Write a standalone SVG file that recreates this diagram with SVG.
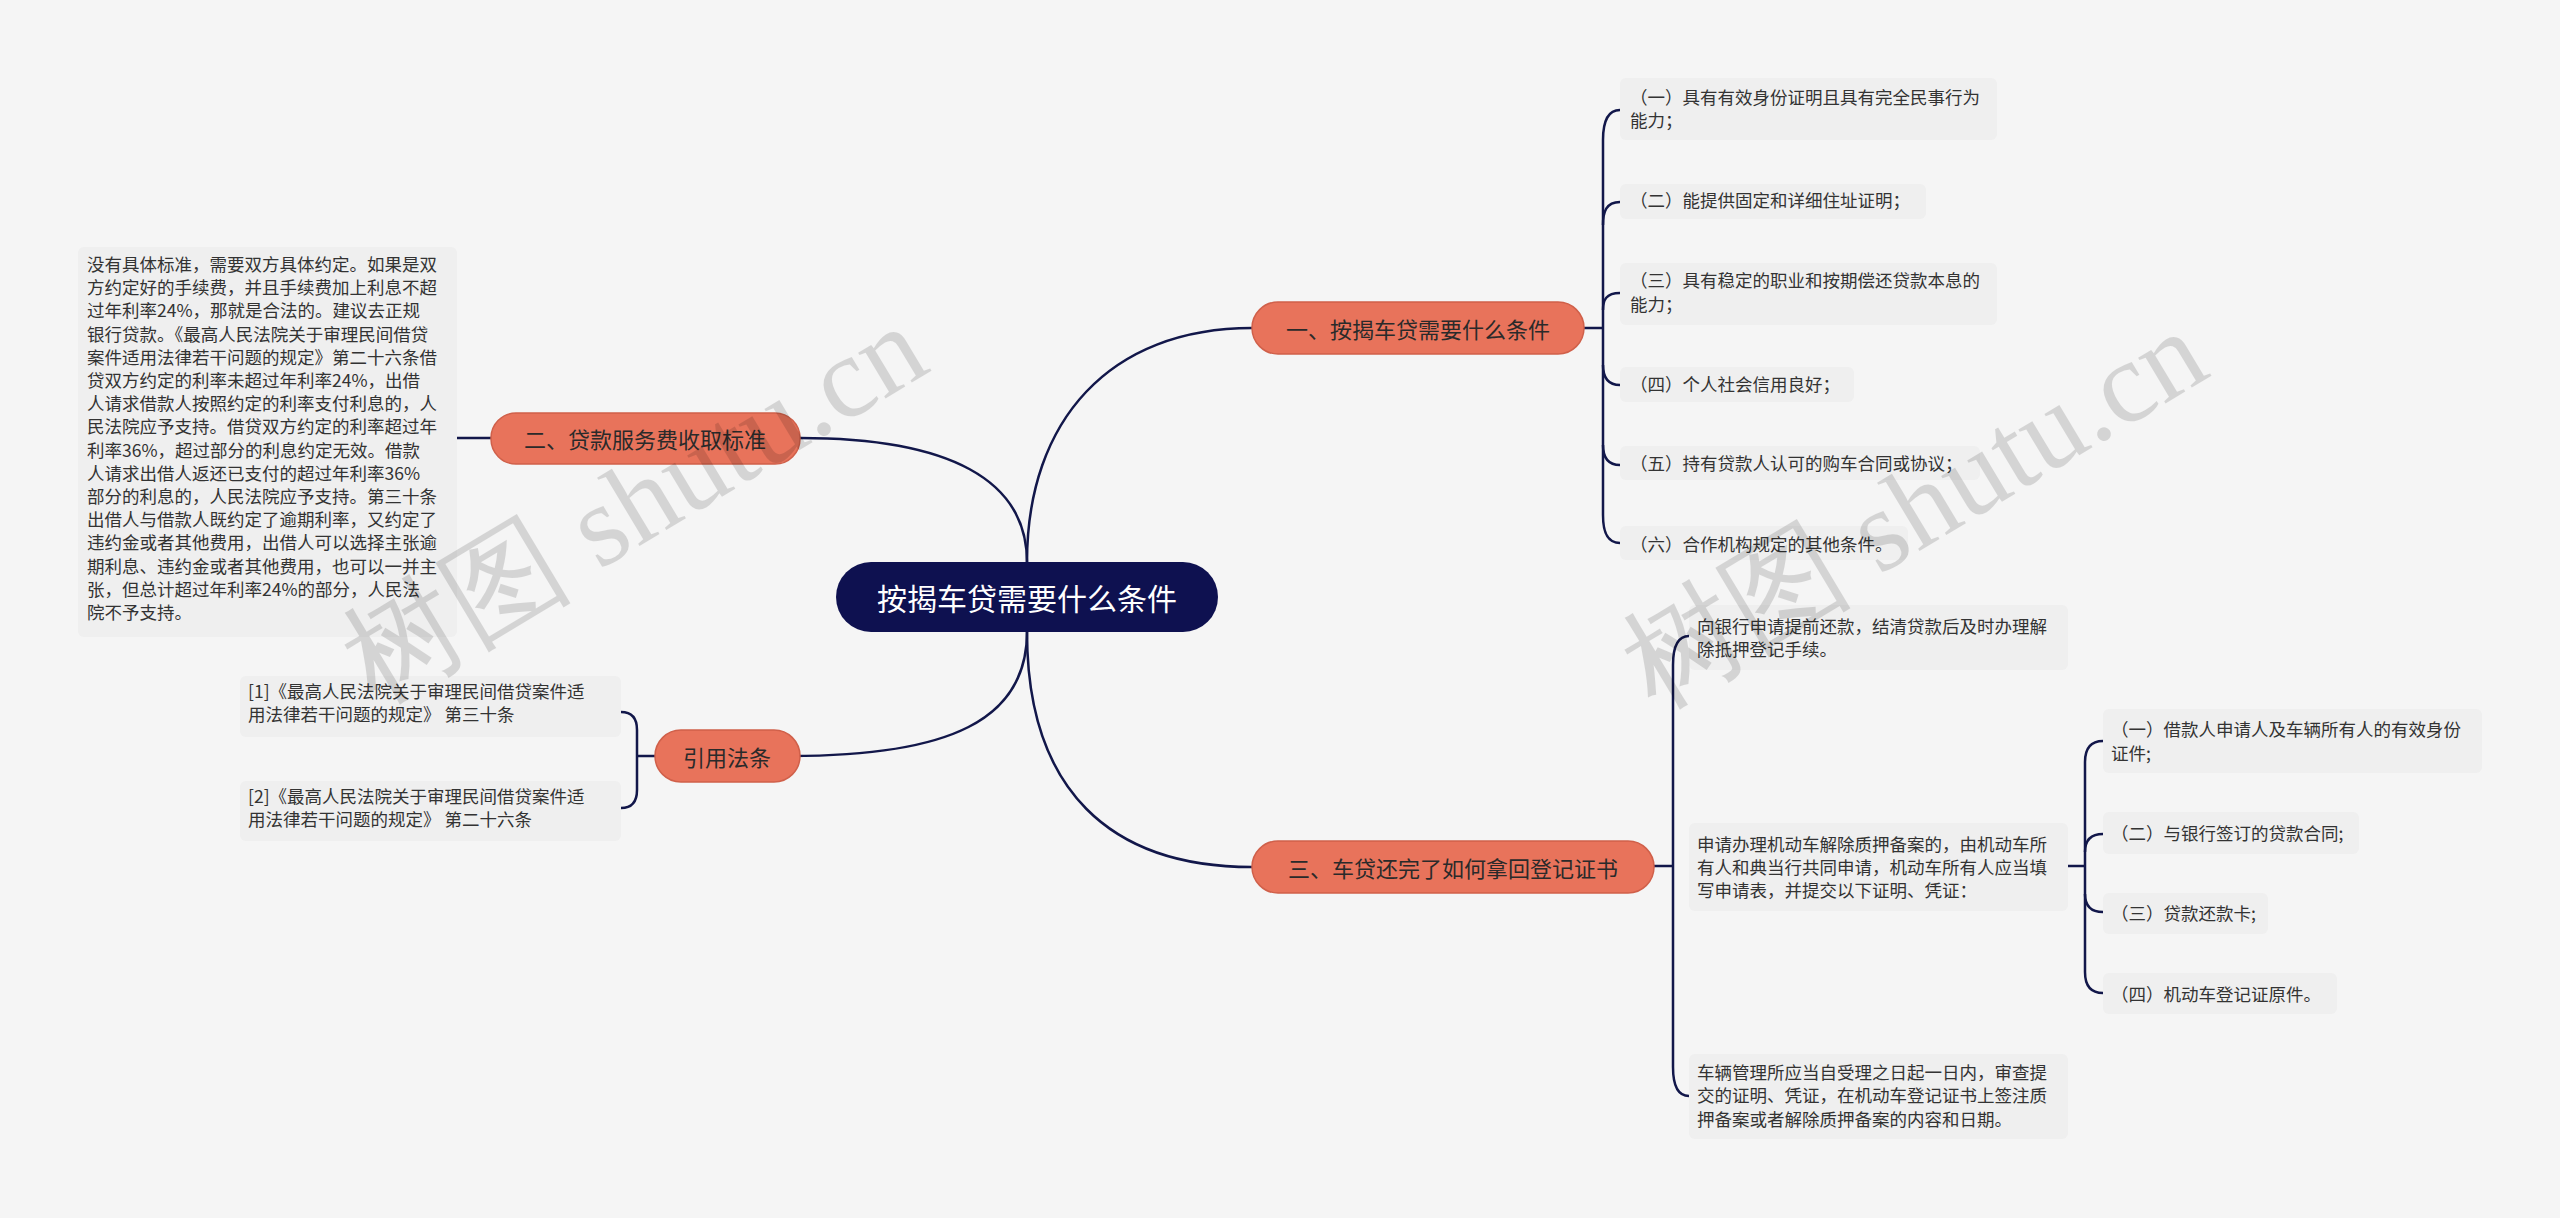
<svg xmlns="http://www.w3.org/2000/svg" width="2560" height="1218" viewBox="0 0 2560 1218">
<style>
text{font-family:"Noto Sans CJK SC","Noto Sans",sans-serif;}
.leaf{fill:#efefef;}
.lt{font-size:17.5px;fill:#333;}
.br{fill:#e8735b;stroke:#d0604a;stroke-width:1.5;}
.bt{font-size:22px;fill:#2a2a2a;text-anchor:middle;dominant-baseline:central;}
.c{fill:none;stroke:#12174a;stroke-width:2.5;}
.wm{font-family:"Liberation Serif",serif;font-size:116px;fill:#000;opacity:0.13;}
</style>
<rect width="2560" height="1218" fill="#f5f5f5"/>
<g id="connectors">
<path class="c" d="M1027,562 C1027,420 1110,328 1252,328"/>
<path class="c" d="M1027,562 C1027,480 950,438 800,438"/>
<path class="c" d="M1027,632 C1027,720 950,756 790,756"/>
<path class="c" d="M1027,632 C1027,790 1110,867 1252,867"/>
<path class="c" d="M1584,328 L1603,328"/>
<path class="c" d="M1620,110 C1606,110 1603,125 1603,140 L1603,515 C1603,530 1606,543 1620,543"/>
<path class="c" d="M1620,202 C1606,202 1603,212 1603,225"/>
<path class="c" d="M1620,293 C1606,293 1603,300 1603,310"/>
<path class="c" d="M1620,385 C1606,385 1603,375 1603,365"/>
<path class="c" d="M1620,465 C1606,465 1603,455 1603,445"/>
<path class="c" d="M491,438 L457,438"/>
<path class="c" d="M655,756 L637,756"/>
<path class="c" d="M621,712 C632,712 637,718 637,730 L637,790 C637,802 632,808 621,808"/>
<path class="c" d="M1654,866 L1673,866"/>
<path class="c" d="M1689,636 C1676,636 1673,650 1673,665 L1673,1067 C1673,1082 1676,1096 1689,1096"/>
<path class="c" d="M2068,866 L2085,866"/>
<path class="c" d="M2103,741 C2089,741 2085,750 2085,762 L2085,972 C2085,984 2089,993 2103,993"/>
<path class="c" d="M2103,834 C2089,834 2085,842 2085,852"/>
<path class="c" d="M2103,912 C2089,912 2085,904 2085,894"/>
</g>
<g id="center">
<rect x="836" y="562" width="382" height="70" rx="35" fill="#0e1150"/>
<text x="1027" y="597" font-size="30" fill="#fff" text-anchor="middle" dominant-baseline="central">按揭车贷需要什么条件</text>
</g>
<g id="b1"><rect class="br" x="1252" y="302" width="332" height="52" rx="26"/><text class="bt" x="1418" y="328">一、按揭车贷需要什么条件</text></g>
<g id="b2"><rect class="br" x="491" y="413" width="309" height="51" rx="25"/><text class="bt" x="645" y="438">二、贷款服务费收取标准</text></g>
<g id="b3"><rect class="br" x="655" y="730" width="145" height="52" rx="26"/><text class="bt" x="727" y="756">引用法条</text></g>
<g id="b4"><rect class="br" x="1252" y="841" width="402" height="52" rx="26"/><text class="bt" x="1453" y="867">三、车贷还完了如何拿回登记证书</text></g>
<g id="l1"><rect class="leaf" x="1620" y="78" width="377" height="62" rx="6"/><text class="lt" x="1630" y="104">（一）具有有效身份证明且具有完全民事行为</text><text class="lt" x="1630" y="127">能力；</text></g>
<g id="l2"><rect class="leaf" x="1620" y="184" width="306" height="35" rx="6"/><text class="lt" x="1630" y="207">（二）能提供固定和详细住址证明；</text></g>
<g id="l3"><rect class="leaf" x="1620" y="263" width="377" height="62" rx="6"/><text class="lt" x="1630" y="287">（三）具有稳定的职业和按期偿还贷款本息的</text><text class="lt" x="1630" y="311">能力；</text></g>
<g id="l4"><rect class="leaf" x="1620" y="367" width="234" height="35" rx="6"/><text class="lt" x="1630" y="391">（四）个人社会信用良好；</text></g>
<g id="l5"><rect class="leaf" x="1620" y="446" width="360" height="34" rx="6"/><text class="lt" x="1630" y="470">（五）持有贷款人认可的购车合同或协议；</text></g>
<g id="l6"><rect class="leaf" x="1620" y="526" width="288" height="34" rx="6"/><text class="lt" x="1630" y="551">（六）合作机构规定的其他条件。</text></g>
<g id="l7"><rect class="leaf" x="78" y="247" width="379" height="390" rx="6"/>
<text class="lt" x="87" y="271">没有具体标准，需要双方具体约定。如果是双</text>
<text class="lt" x="87" y="294">方约定好的手续费，并且手续费加上利息不超</text>
<text class="lt" x="87" y="317">过年利率24%，那就是合法的。建议去正规</text>
<text class="lt" x="87" y="341">银行贷款。《最高人民法院关于审理民间借贷</text>
<text class="lt" x="87" y="364">案件适用法律若干问题的规定》第二十六条借</text>
<text class="lt" x="87" y="387">贷双方约定的利率未超过年利率24%，出借</text>
<text class="lt" x="87" y="410">人请求借款人按照约定的利率支付利息的，人</text>
<text class="lt" x="87" y="433">民法院应予支持。借贷双方约定的利率超过年</text>
<text class="lt" x="87" y="457">利率36%，超过部分的利息约定无效。借款</text>
<text class="lt" x="87" y="480">人请求出借人返还已支付的超过年利率36%</text>
<text class="lt" x="87" y="503">部分的利息的，人民法院应予支持。第三十条</text>
<text class="lt" x="87" y="526">出借人与借款人既约定了逾期利率，又约定了</text>
<text class="lt" x="87" y="549">违约金或者其他费用，出借人可以选择主张逾</text>
<text class="lt" x="87" y="573">期利息、违约金或者其他费用，也可以一并主</text>
<text class="lt" x="87" y="596">张，但总计超过年利率24%的部分，人民法</text>
<text class="lt" x="87" y="619">院不予支持。</text></g>
<g id="l8"><rect class="leaf" x="240" y="676" width="381" height="61" rx="6"/><text class="lt" x="248" y="698">[1]《最高人民法院关于审理民间借贷案件适</text><text class="lt" x="248" y="721">用法律若干问题的规定》 第三十条</text></g>
<g id="l9"><rect class="leaf" x="240" y="781" width="381" height="60" rx="6"/><text class="lt" x="248" y="803">[2]《最高人民法院关于审理民间借贷案件适</text><text class="lt" x="248" y="826">用法律若干问题的规定》 第二十六条</text></g>
<g id="l10"><rect class="leaf" x="1689" y="605" width="379" height="65" rx="6"/><text class="lt" x="1697" y="633">向银行申请提前还款，结清贷款后及时办理解</text><text class="lt" x="1697" y="656">除抵押登记手续。</text></g>
<g id="l11"><rect class="leaf" x="1689" y="823" width="379" height="88" rx="6"/><text class="lt" x="1697" y="851">申请办理机动车解除质押备案的，由机动车所</text><text class="lt" x="1697" y="874">有人和典当行共同申请，机动车所有人应当填</text><text class="lt" x="1697" y="897">写申请表，并提交以下证明、凭证：</text></g>
<g id="l12"><rect class="leaf" x="1689" y="1054" width="379" height="85" rx="6"/><text class="lt" x="1697" y="1079">车辆管理所应当自受理之日起一日内，审查提</text><text class="lt" x="1697" y="1102">交的证明、凭证，在机动车登记证书上签注质</text><text class="lt" x="1697" y="1126">押备案或者解除质押备案的内容和日期。</text></g>
<g id="s1"><rect class="leaf" x="2103" y="709" width="379" height="64" rx="6"/><text class="lt" x="2111" y="736">（一）借款人申请人及车辆所有人的有效身份</text><text class="lt" x="2111" y="760">证件;</text></g>
<g id="s2"><rect class="leaf" x="2103" y="812" width="256" height="42" rx="6"/><text class="lt" x="2111" y="840">（二）与银行签订的贷款合同;</text></g>
<g id="s3"><rect class="leaf" x="2103" y="893" width="165" height="41" rx="6"/><text class="lt" x="2111" y="920">（三）贷款还款卡;</text></g>
<g id="s4"><rect class="leaf" x="2103" y="973" width="234" height="41" rx="6"/><text class="lt" x="2111" y="1001">（四）机动车登记证原件。</text></g>
<text class="wm" transform="translate(375,705) rotate(-31)">树图 shutu.cn</text>
<text class="wm" transform="translate(1655,710) rotate(-31)">树图 shutu.cn</text>
</svg>
